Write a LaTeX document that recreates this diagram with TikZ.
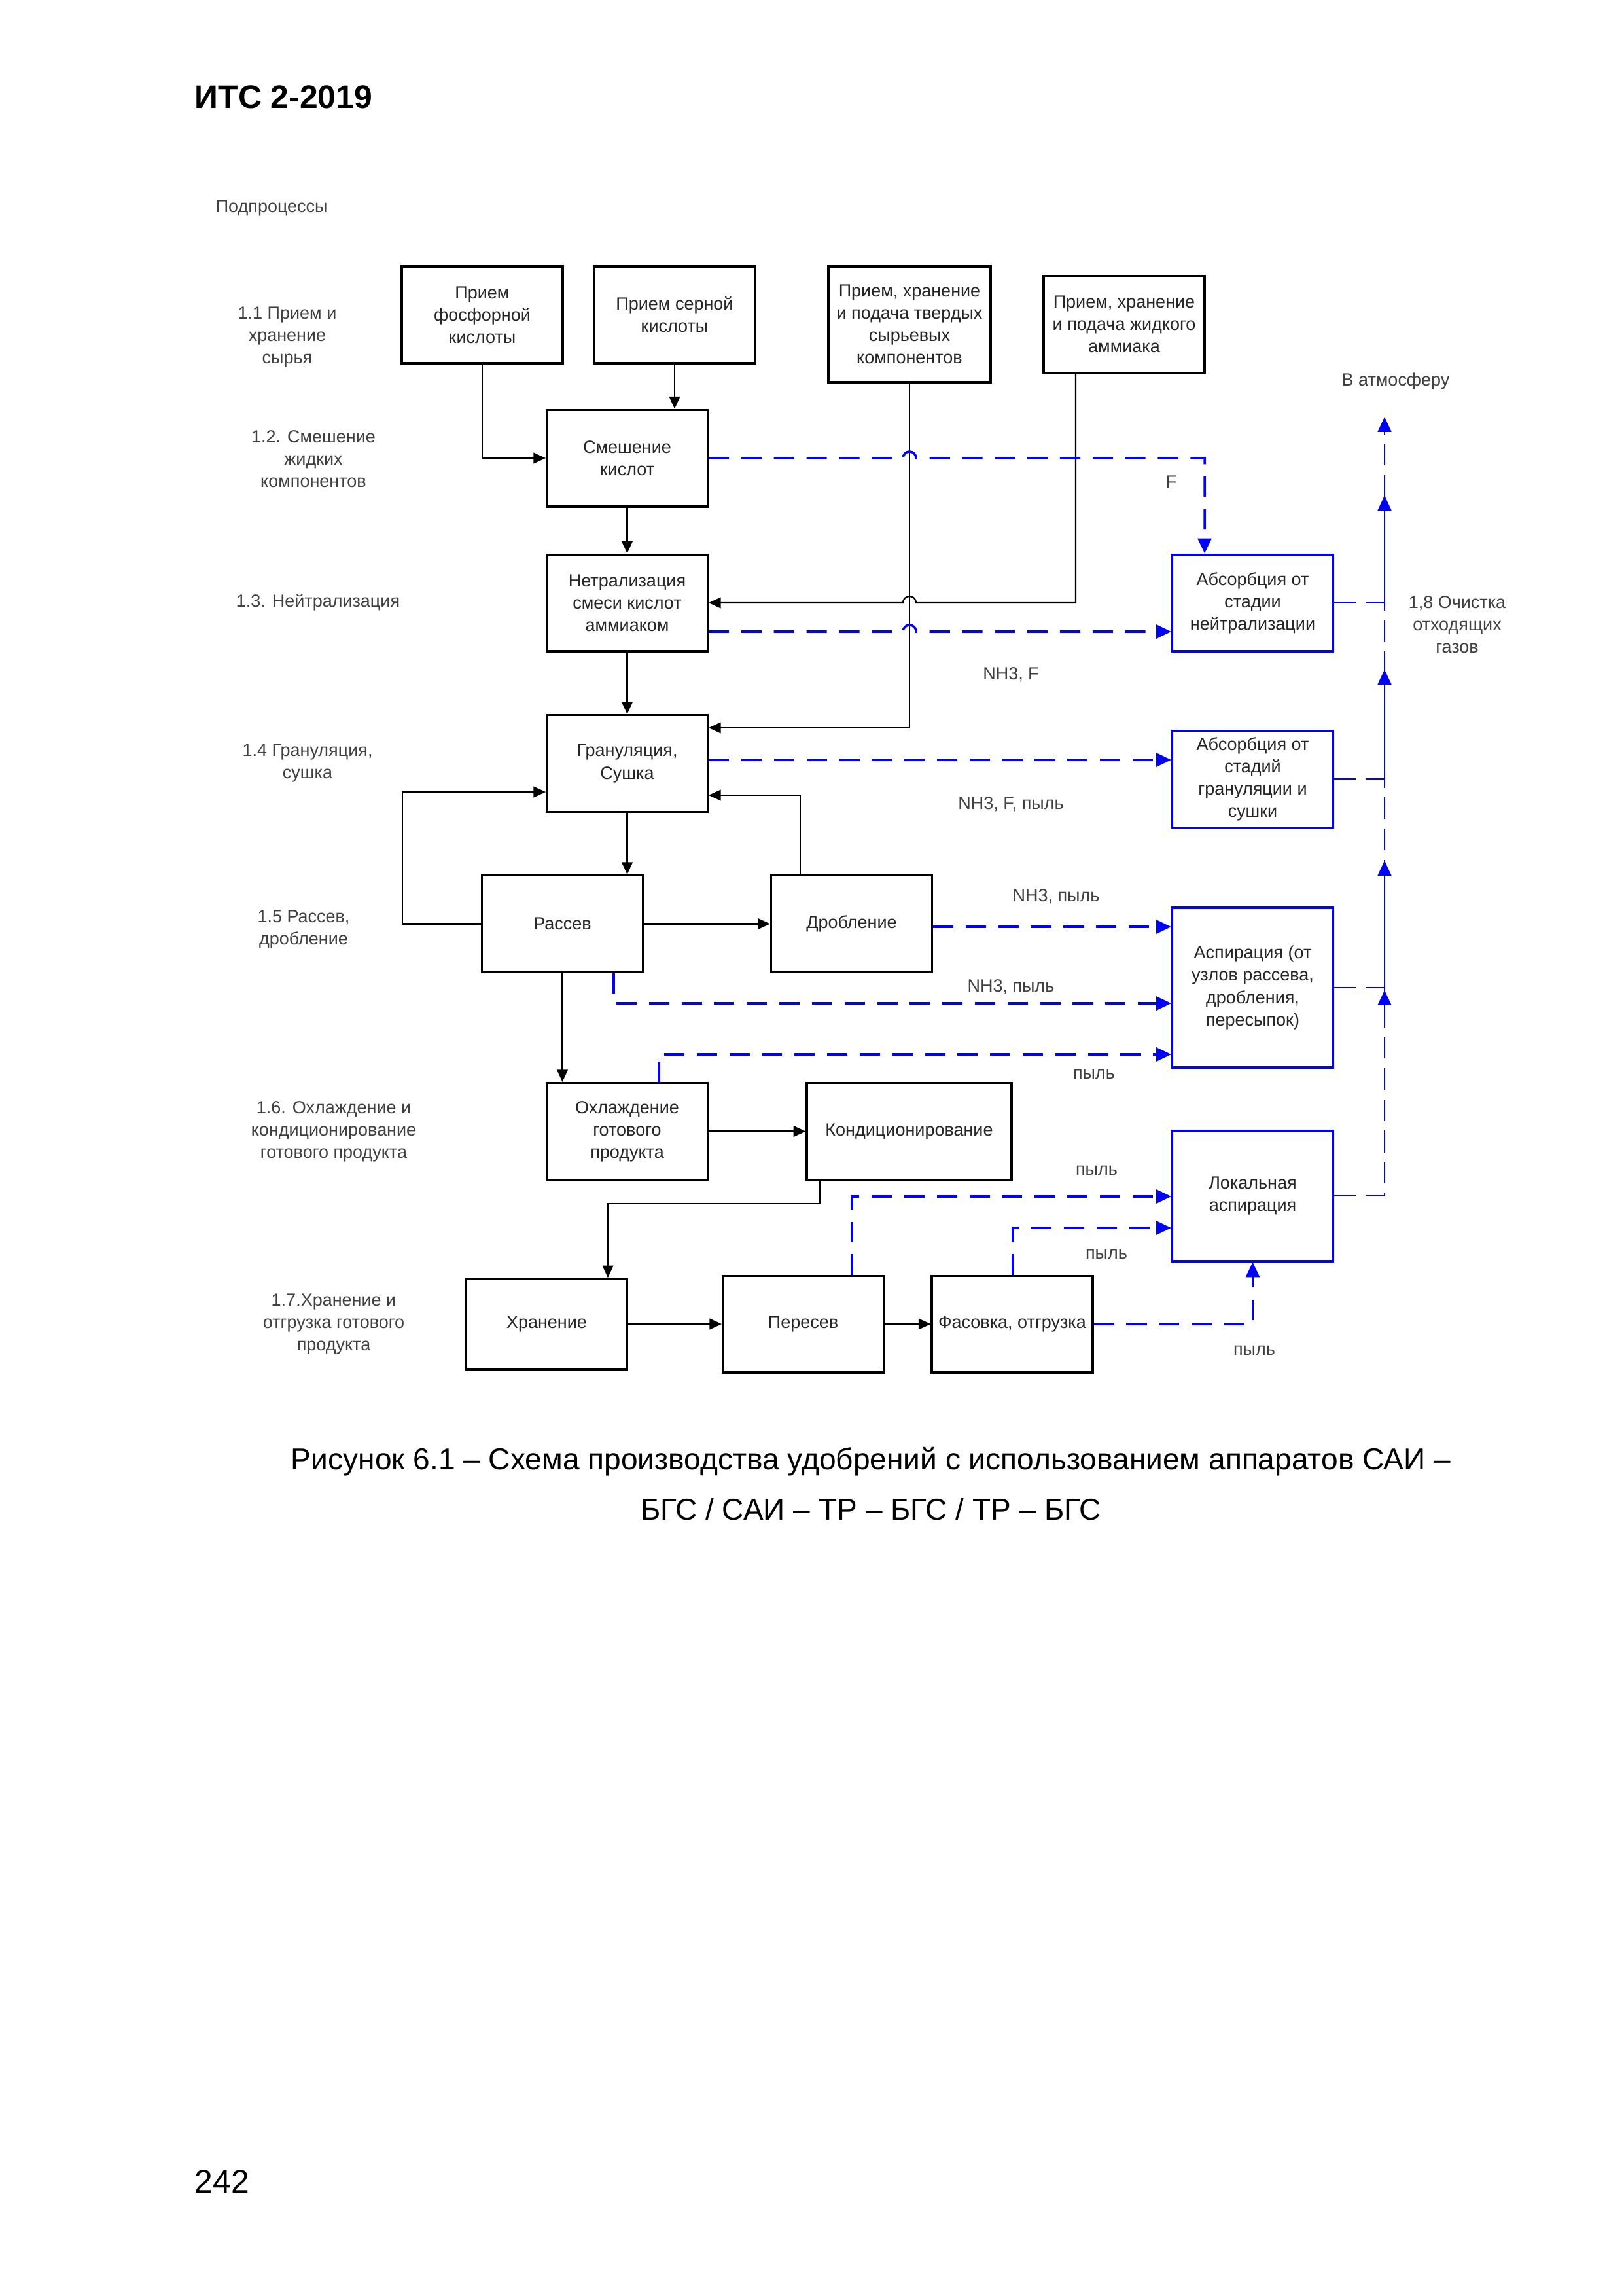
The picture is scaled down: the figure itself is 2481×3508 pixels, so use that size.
\documentclass[tikz,border=0pt]{standalone}
\usepackage{fontspec}
\setmainfont{Liberation Sans}
\usetikzlibrary{arrows.meta}

\begin{document}
\begin{tikzpicture}[x=0.08464mm,y=-0.08464mm]
\useasboundingbox (0,0) rectangle (2481,3508);

%PAGE
\node[anchor=west,inner sep=0pt,font=\fontsize{12}{14}\selectfont\bfseries] (head) at (297,148) {ИТС 2-2019};
\node[align=center,font=\fontsize{11.1}{18.7}\selectfont] (caption) at (1331,2267) {Рисунок 6.1 -- Схема производства удобрений с использованием аппаратов САИ --\\БГС / САИ -- ТР -- БГС / ТР -- БГС};
\node[anchor=west,inner sep=0pt,font=\fontsize{12}{14}\selectfont] (pagenum) at (297,3333) {242};

%%%%%%%%%%%%%%%%%%%%%%%%%%%%%%%%%%%%%%%%%%%%%%%%%%%%%%%%%%%%%%
%styles
\tikzstyle{stage}=[draw=black,line width=0.8pt,fill=white,text=black!85,align=center,inner sep=1pt,minimum width=20.8mm,minimum height=12.5mm,font=\fontsize{6.5}{8.2}\selectfont]
\tikzstyle{cleaner}=[stage,draw=blue]
\tikzstyle{sublabel}=[align=center,text=black!75,font=\fontsize{6.5}{8.2}\selectfont]
\tikzstyle{flowlabel}=[text=black!75,font=\fontsize{6.5}{8.2}\selectfont]
\tikzstyle{link}=[->,>={Triangle[length=4.5pt,width=4pt]},line width=0.55pt]
\tikzstyle{gas}=[->,>={Triangle[length=5.5pt,width=5pt]},draw=blue,line width=0.85pt,dash pattern=on 7.5pt off 4.5pt]
\tikzstyle{vent}=[gas,line width=0.55pt,dash pattern=on 8pt off 3.5pt]

%SUBPROCESSES
\node[flowlabel,anchor=west,inner sep=0pt] (subhead) at (329,318) {Подпроцессы};
\node[sublabel] (sub1) at (439,515) {1.1 Прием и\\хранение\\сырья};
\node[sublabel] (sub2) at (479,701) {1.2. Смешение\\жидких\\компонентов};
\node[sublabel] (sub3) at (486,920) {1.3. Нейтрализация};
\node[sublabel] (sub4) at (470,1166) {1.4 Грануляция,\\сушка};
\node[sublabel] (sub5) at (464,1420) {1.5 Рассев,\\дробление};
\node[sublabel] (sub6) at (510,1729) {1.6. Охлаждение и\\кондиционирование\\готового продукта};
\node[sublabel] (sub7) at (510,2023) {1.7.Хранение и\\отгрузка готового\\продукта};
\node[sublabel] (sub8) at (2227,954) {1,8 Очистка\\отходящих\\газов};
\node[flowlabel] (atmlabel) at (2133,583) {В атмосферу};

%%%%%%%%%%%%%%%%%%%%%%%%%%%%%%%%%%%%%%%%%%%%%%%%%%%%%%%%%%%%%%
%1.1
\node[stage] (phos) at (737,481) {Прием\\фосфорной\\кислоты};
\node[stage] (sulf) at (1031,481) {Прием серной\\кислоты};
\node[stage,minimum width=21mm,minimum height=15mm] (solid) at (1390,495.5) {Прием, хранение\\и подача твердых\\сырьевых\\компонентов};
\node[stage] (ammo) at (1718,495.5) {Прием, хранение\\и подача жидкого\\аммиака};
%1.2-1.4
\node[stage] (mix) at (958.5,700) {Смешение\\кислот};
\node[stage] (neut) at (958.5,921) {Нетрализация\\смеси кислот\\аммиаком};
\node[stage] (gran) at (958.5,1166.5) {Грануляция,\\Сушка};
%1.5
\node[stage] (screen) at (859.5,1411.5) {Рассев};
\node[stage] (crush) at (1301.5,1411.5) {Дробление};
%1.6
\node[stage] (cool) at (958.5,1728.5) {Охлаждение\\готового\\продукта};
\node[stage,minimum width=26.5mm] (cond) at (1389.5,1728.5) {Кондиционирование};
%1.7
\node[stage,minimum height=11.7mm] (store) at (835.5,2023) {Хранение};
\node[stage] (resc) at (1227.5,2023) {Пересев};
\node[stage] (pack) at (1547,2023) {Фасовка, отгрузка};
%1.8
\node[cleaner] (absN) at (1914.5,921) {Абсорбция от\\стадии\\нейтрализации};
\node[cleaner] (absG) at (1914.5,1190.5) {Абсорбция от\\стадий\\грануляции и\\сушки};
\node[cleaner,minimum height=20.65mm] (asp) at (1914.5,1509) {Аспирация (от\\узлов рассева,\\дробления,\\пересыпок)};
\node[cleaner,minimum height=16.9mm] (locasp) at (1914.5,1827) {Локальная\\аспирация};

\coordinate (atm) at (2116,637);
\coordinate (vent2) at (2116,757);
\coordinate (vent3) at (2116,1023);
\coordinate (vent4) at (2116,1315);
\coordinate (vent5) at (2116,1513);

%%%%%%%%%%%%%%%%%%%%%%%%%%%%%%%%%%%%%%%%%%%%%%%%%%%%%%%%%%%%%%
%ARROWS

%product
\draw[link] (phos.south) |- (mix.west);
\draw[link] (sulf.south) -- (sulf.south |- mix.north);
\draw[link] (mix) -- (neut);
\draw[link] (solid.south) -- (solid.south |- 0,1112) -- (gran.east |- 0,1112);
\draw[link] (ammo.south -| 1644,0) -- (1644,921) -- (1400,921) arc[start angle=0,end angle=180,radius=0.85mm] -- (neut.east);
\draw[link] (neut) -- (gran);
\draw[link] (gran.south) -- (gran.south |- screen.north);
\draw[link] (screen.west) -| (615,1210) -- (gran.west |- 0,1210);
\draw[link] (screen) -- (crush);
\draw[link] (crush.north -| 1223,0) |- (gran.east |- 0,1215);
\draw[link] (screen.south) -- (screen.south |- cool.north);
\draw[link] (cool) -- (cond);
\draw[link] (cond.south -| 1253,0) |- (929,1839) -- (store.north -| 929,0);
\draw[link] (store) -- (resc);
\draw[link] (resc) -- (pack);

%gases
\draw[gas] (mix.east) -- (1380,700) arc[start angle=180,end angle=0,radius=0.85mm] -- (1841,700) -- (absN.north -| 1841,0);
\draw[gas] (neut.east |- 0,965) -- (1380,965) arc[start angle=180,end angle=0,radius=0.85mm] -- (absN.west |- 0,965);
\draw[gas] (gran.east |- 0,1161) -- (absG.west |- 0,1161);
\draw[gas] (crush.east |- 0,1416) -- (asp.west |- 0,1416);
\draw[gas] (screen.south -| 938,0) |- (asp.west |- 0,1533);
\draw[gas] (cool.north -| 1007,0) |- (asp.west |- 0,1611);
\draw[gas] (resc.north -| 1302,0) |- (locasp.west |- 0,1828);
\draw[gas] (pack.north -| 1548,0) |- (locasp.west |- 0,1876);
\draw[gas] (pack.east) -| (locasp.south);

%to atmosphere
\draw[vent] (absN.east) -| (atm);
\draw[vent] (absG.east) -| (vent2);
\draw[vent] (asp.east) -| (vent3);
\draw[vent] (locasp.east) -| (vent4);
\draw[vent] (locasp.east) -| (vent5);

%flow labels
\node[flowlabel] (lF) at (1790,736) {F};
\node[flowlabel] (lNF) at (1545,1031) {NH3, F};
\node[flowlabel] (lNFd) at (1545,1229) {NH3, F, пыль};
\node[flowlabel] (lNd1) at (1614,1370) {NH3, пыль};
\node[flowlabel] (lNd2) at (1545,1508) {NH3, пыль};
\node[flowlabel] (ld1) at (1672,1641) {пыль};
\node[flowlabel] (ld2) at (1676,1788) {пыль};
\node[flowlabel] (ld3) at (1691,1916) {пыль};
\node[flowlabel] (ld4) at (1917,2063) {пыль};
\end{tikzpicture}
\end{document}
